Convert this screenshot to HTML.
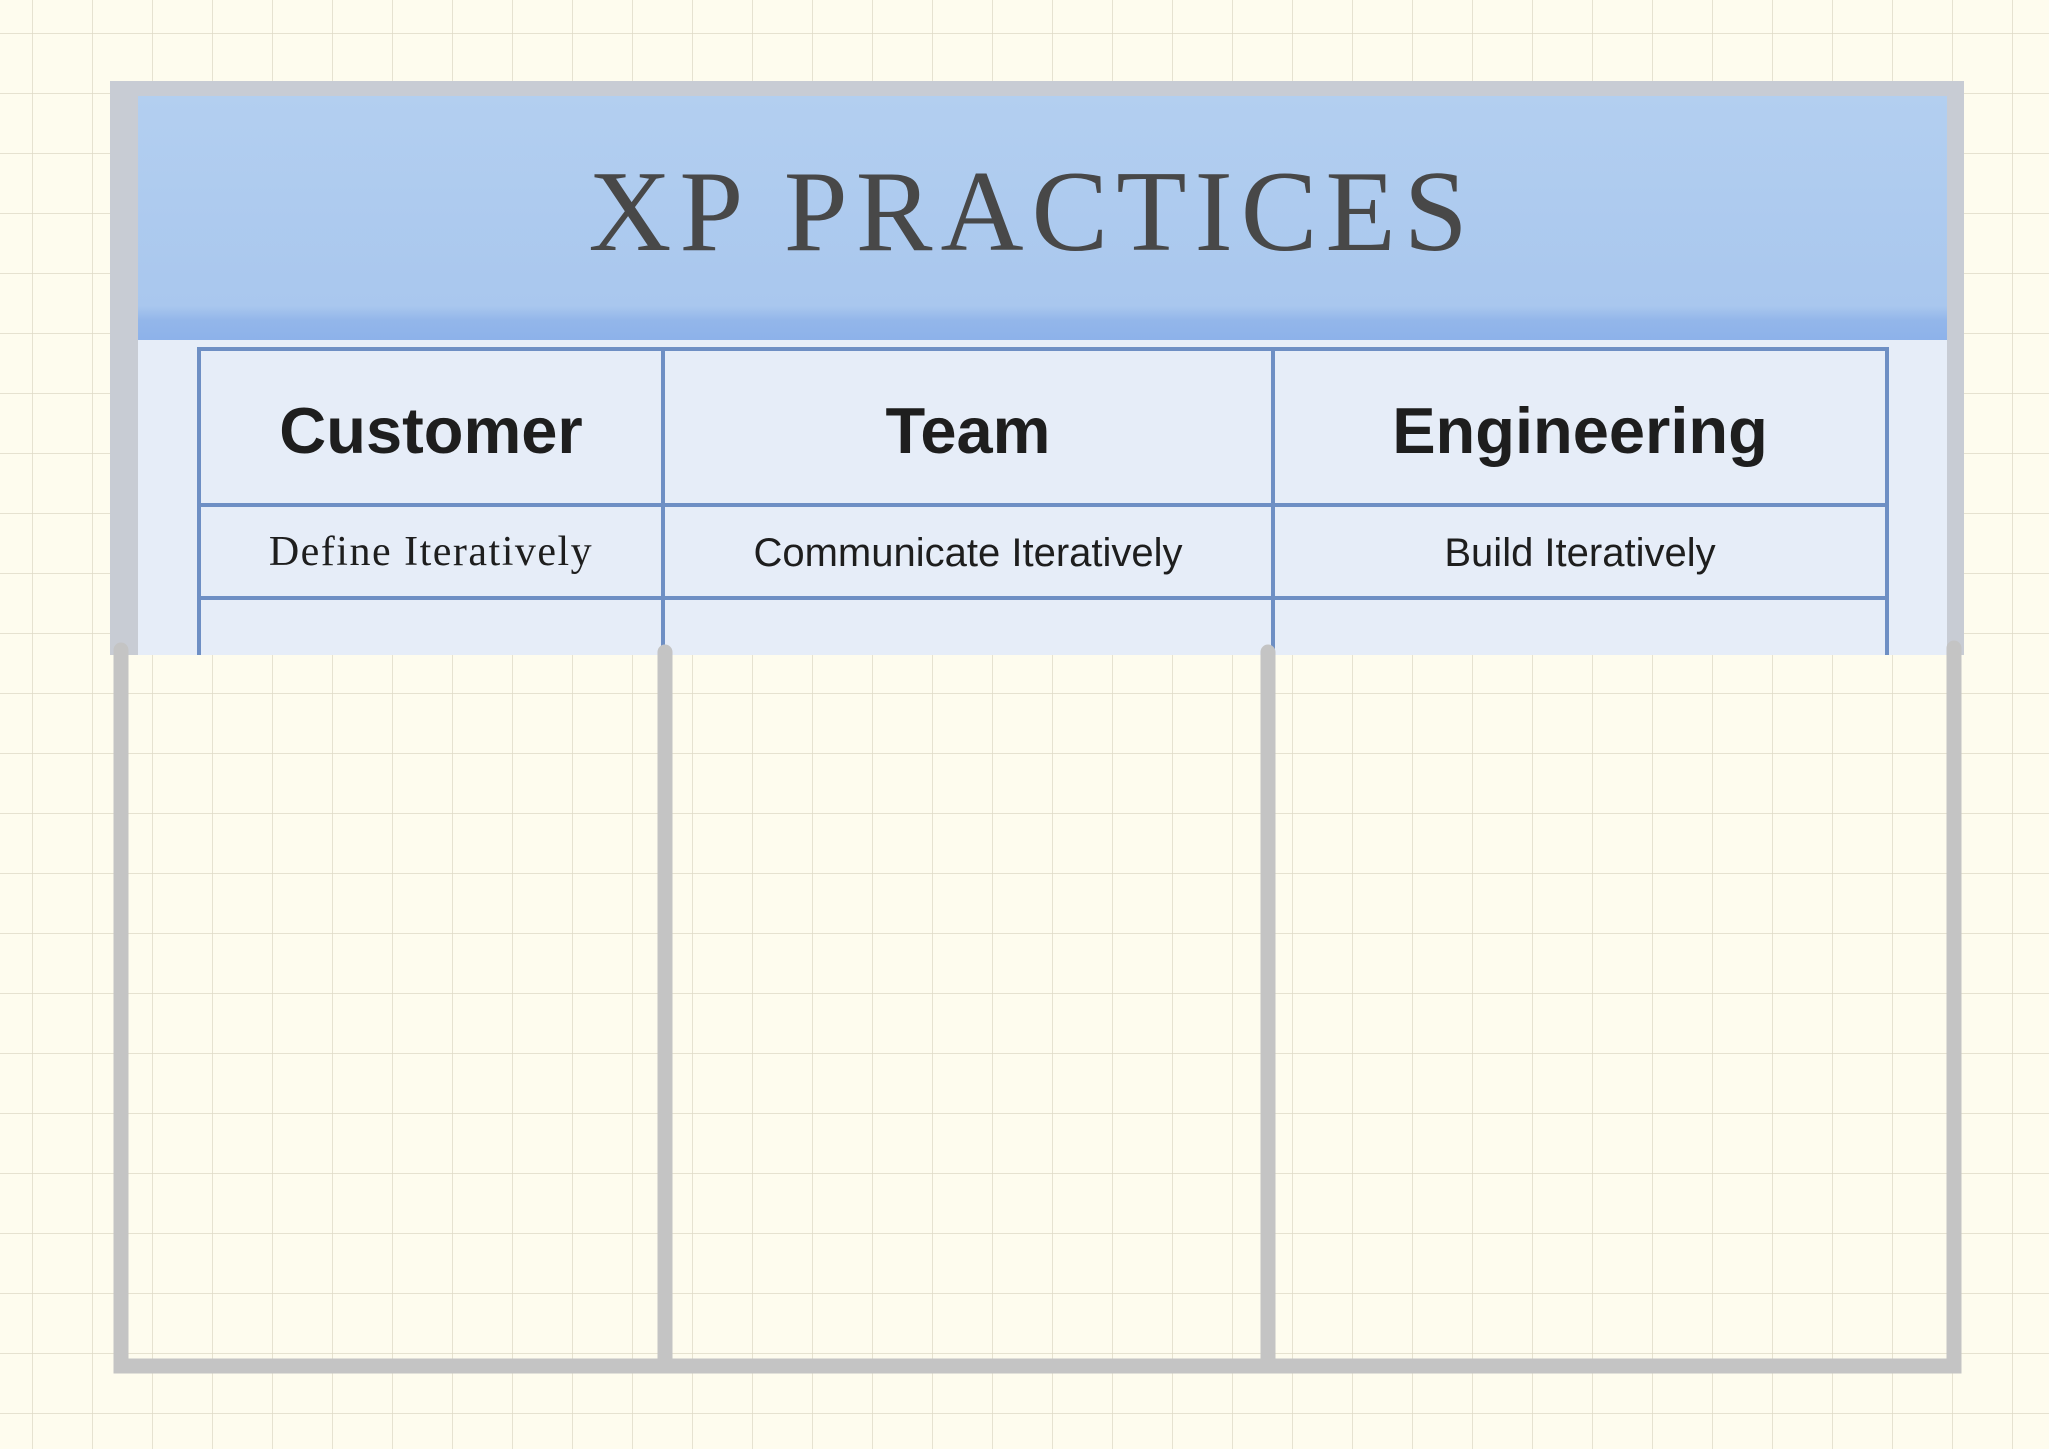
<!DOCTYPE html>
<html><head><meta charset="utf-8"><style>
html,body{margin:0;padding:0;background:#fefcee;}
svg{display:block;}
</style></head><body>
<svg width="2049" height="1449" viewBox="0 0 2049 1449" xmlns="http://www.w3.org/2000/svg">
<defs>
<pattern id="g" x="32" y="33" width="60" height="60" patternUnits="userSpaceOnUse">
<path d="M0 0H60M0 0V60" stroke="#dedac6" stroke-width="1.5" fill="none"/>
</pattern>
<linearGradient id="hb" x1="0" y1="0" x2="0" y2="1">
<stop offset="0" stop-color="#b3cff0"/>
<stop offset="0.86" stop-color="#a9c7ee"/>
<stop offset="0.92" stop-color="#93b6ea"/>
<stop offset="1" stop-color="#8db2ea"/>
</linearGradient>
</defs>
<rect width="2049" height="1449" fill="#fefcee"/>
<rect width="2049" height="1449" fill="url(#g)"/>
<rect x="110" y="81" width="1854" height="574" fill="#c8ccd4"/>
<rect x="138" y="96" width="1809" height="559" fill="#e6edf8"/>
<rect x="138" y="96" width="1809" height="244" fill="url(#hb)"/>
<text x="1032" y="250" text-anchor="middle" font-family="Liberation Serif, serif" font-size="115" fill="#484848" letter-spacing="8">XP  PRACTICES</text>
<g stroke="#6e8fc4" stroke-width="4" fill="none">
<path d="M199 655V349H1887V655"/>
<path d="M663 349V655M1273 349V655"/>
<path d="M199 505H1887M199 598H1887"/>
</g>
<g font-family="Liberation Sans, sans-serif" fill="#1e1e1e" text-anchor="middle">
<text x="431" y="453" font-size="65" font-weight="bold">Customer</text>
<text x="968" y="453" font-size="65" font-weight="bold">Team</text>
<text x="1580" y="453" font-size="65" font-weight="bold">Engineering</text>
<text x="431" y="565" font-size="42" letter-spacing="1.5" font-family="Liberation Serif, serif">Define Iteratively</text>
<text x="968" y="566" font-size="40">Communicate Iteratively</text>
<text x="1580" y="566" font-size="40">Build Iteratively</text>
</g>
<g stroke="#c4c4c4" stroke-width="15" stroke-linecap="round" fill="none">
<path d="M121 650V1366H1954V648"/>
<path d="M665 652V1366M1268 652V1366"/>
</g>
</svg>
</body></html>
